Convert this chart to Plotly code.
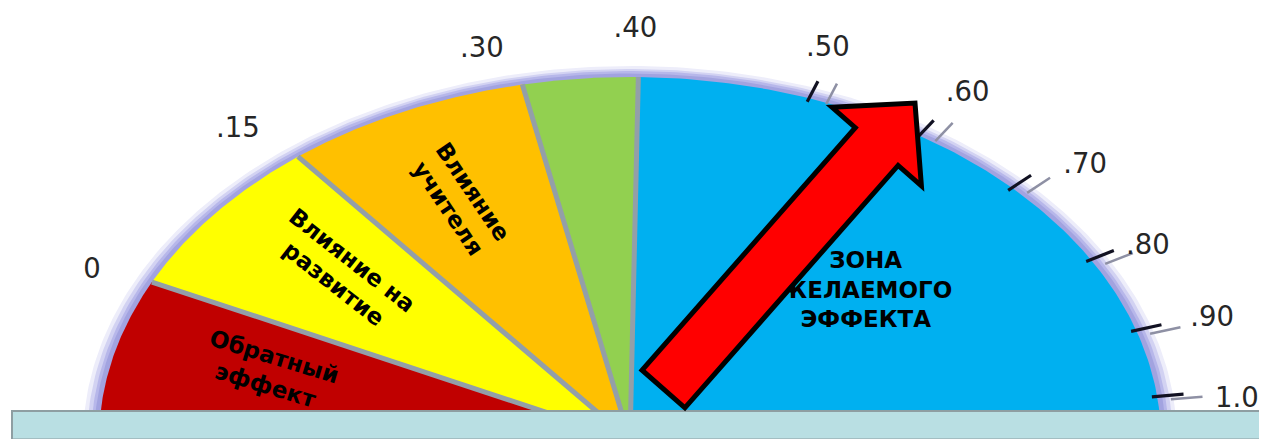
import numpy as np
import plotly.graph_objects as go

# ---------------- data ----------------
ZONE_LABELS = ["Обратный<br>эффект", "Влияние на<br>развитие", "Влияние<br>учителя", "",
               "ЗОНА<br>ЖЕЛАЕМОГО<br>ЭФФЕКТА"]
ZONE_START = [-0.2, 0.0, 0.15, 0.30, 0.40]
ZONE_END = [0.0, 0.15, 0.30, 0.40, 1.2]
TICK_VALUES = [0.0, 0.15, 0.30, 0.40, 0.50, 0.60, 0.70, 0.80, 0.90, 1.0]
TICK_LABELS = ["0", ".15", ".30", ".40", ".50", ".60", ".70", ".80", ".90", "1.0"]
MARKED_TICK_VALUES = [0.50, 0.60, 0.70, 0.80, 0.90, 1.0]

# dial calibration (the barometer scale is not uniform)
DIAL_VALUES = [-0.2, 0.0, 0.15, 0.30, 0.40, 0.50, 0.60, 0.70, 0.80, 0.90, 1.0, 1.2]
DIAL_ANGLES = [180, 154.2, 128.7, 101.7, 89.1, 70.3, 57.0, 44.0, 29.8, 17.6, 6.9, 0]

# ---------------- style ----------------
W, H = 1267, 439
PAGE_MARGIN = 8  # default body margin of the html page
CX, CY, RX, RY = 630, 440, 531, 363
ZONE_COLORS = ["#c00000", "#ffff00", "#ffc000", "#92d050", "#00b0f0"]
SEP_COLOR = "#939fa8"
LABEL_ANGLE = [164.3, 139.4, 115.8, None, 42.6]
LABEL_R = [0.704, 0.712, 0.734, None, 0.603]
LABEL_ROT = [17, 38, 56, None, 0]
# hand placement of the tick labels around the rim (angle nudge, radius)
TICK_LABEL_DA = [0.6, 1.8, 2.7, 0.4, 0.8, -0.4, -2.2, -0.7, -0.2, -0.9]
TICK_LABEL_R = [1.12, 1.137, 1.121, 1.139, 1.15, 1.155, 1.15, 1.116, 1.149, 1.149]
TICK_LABEL_DY = 4


def dial_angle(v):
    return float(np.interp(v, DIAL_VALUES, DIAL_ANGLES))


def pos(angle_deg, r, dx=0.0, dy=0.0):
    a = np.radians(angle_deg)
    return CX + (RX * r + dx) * np.cos(a), CY - (RY * r + dy) * np.sin(a)


fig = go.Figure()

# outer lavender rim (glow)
for dx, dy, col in [(16, 11, "#ededfa"), (12, 8, "#d2d2f2"), (8, 6, "#b7b7ea"), (5, 3.5, "#a2a3e0")]:
    th = np.linspace(0, 180, 240)
    x, y = pos(th, 1.0, dx, dy)
    fig.add_trace(go.Scatter(x=np.append(x, x[0]), y=np.append(y, y[0]), fill="toself",
                             fillcolor=col, mode="lines", line=dict(width=0),
                             hoverinfo="skip", showlegend=False))

# zones
for z0, z1, col in zip(ZONE_START, ZONE_END, ZONE_COLORS):
    a0, a1 = dial_angle(z0), dial_angle(z1)
    th = np.linspace(a0, a1, 120)
    x, y = pos(th, 1.0)
    xs = np.concatenate([[CX], x, [CX]])
    ys = np.concatenate([[CY], y, [CY]])
    fig.add_trace(go.Scatter(x=xs, y=ys, fill="toself", fillcolor=col, mode="lines",
                             line=dict(width=0), hoverinfo="skip", showlegend=False))

# separators between zones
sx, sy = [], []
for b in ZONE_END[:-1]:
    ex, ey = pos(dial_angle(b), 1.0)
    sx += [CX, ex, None]
    sy += [CY, ey, None]
fig.add_trace(go.Scatter(x=sx, y=sy, mode="lines", line=dict(color=SEP_COLOR, width=5),
                         hoverinfo="skip", showlegend=False))

# tick marks (black + grey shadow)
kx, ky, gx, gy = [], [], [], []
for v in MARKED_TICK_VALUES:
    a = dial_angle(v)
    x1, y1 = pos(a, 0.99)
    x2, y2 = pos(a, 1.05)
    kx += [x1, x2, None]
    ky += [y1, y2, None]
    gx += [x1 + 19, x2 + 19, None]
    gy += [y1 + 2.5, y2 + 2.5, None]
fig.add_trace(go.Scatter(x=gx, y=gy, mode="lines", line=dict(color="#8e90a4", width=2.5),
                         hoverinfo="skip", showlegend=False))
fig.add_trace(go.Scatter(x=kx, y=ky, mode="lines", line=dict(color="#111122", width=3.2),
                         hoverinfo="skip", showlegend=False))

# tick labels
lx, ly = [], []
for v, da, r in zip(TICK_VALUES, TICK_LABEL_DA, TICK_LABEL_R):
    x, y = pos(dial_angle(v) + da, r)
    lx.append(x)
    ly.append(y + TICK_LABEL_DY)
fig.add_trace(go.Scatter(x=lx, y=ly, mode="text", text=TICK_LABELS,
                         textposition="middle center", cliponaxis=False,
                         textfont=dict(family="DejaVu Sans", size=27.5, color="#262626"),
                         hoverinfo="skip", showlegend=False))

# zone labels
for lab, ang, r, rot in zip(ZONE_LABELS, LABEL_ANGLE, LABEL_R, LABEL_ROT):
    if not lab:
        continue
    x, y = pos(ang, r)
    if rot == 0:
        fig.add_trace(go.Scatter(x=[x], y=[y], mode="text", text=[lab],
                                 textposition="middle center", cliponaxis=False,
                                 textfont=dict(family="DejaVu Sans", size=23, color="#000000",
                                               weight="bold"),
                                 hoverinfo="skip", showlegend=False))
    else:
        fig.add_annotation(x=x, y=y, text="<b>" + lab + "</b>", showarrow=False,
                           textangle=rot, xanchor="center", yanchor="middle",
                           font=dict(family="DejaVu Sans", size=23, color="#000000"))

# base plate
fig.add_shape(type="rect", x0=12, y0=411, x1=1290, y1=439.6,
              fillcolor="#b9dfe3", line=dict(color="#8e9ea2", width=2), layer="above")

# big red arrow
tail = np.array([663.5, 389.0])
tip = np.array([915.0, 103.0])
u = (tip - tail) / np.linalg.norm(tip - tail)
n = np.array([-u[1], u[0]])
if n[0] < 0:
    n = -n
shaft_w, head_half, head_len = 57.0, 59.5, 58.0
base = tip - u * head_len
pts = [tail - n * shaft_w / 2, base - n * shaft_w / 2, base - n * head_half, tip,
       base + n * head_half, base + n * shaft_w / 2, tail + n * shaft_w / 2]
path = "M " + " L ".join(f"{p[0]:.1f},{p[1]:.1f}" for p in pts) + " Z"
fig.add_shape(type="path", path=path, fillcolor="#ff0000",
              line=dict(color="#000000", width=5), layer="above")

fig.update_layout(
    width=W - PAGE_MARGIN, height=H - PAGE_MARGIN, margin=dict(l=0, r=0, t=0, b=0),
    paper_bgcolor="white", plot_bgcolor="white",
    xaxis=dict(range=[PAGE_MARGIN, W], visible=False, fixedrange=True),
    yaxis=dict(range=[H, PAGE_MARGIN], visible=False, fixedrange=True),
    showlegend=False,
)

fig.write_html("out.html")
